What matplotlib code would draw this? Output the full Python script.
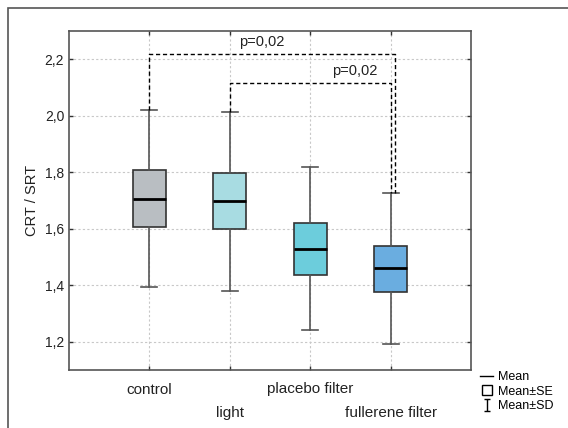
import numpy as np
import matplotlib
matplotlib.use('Agg')
import matplotlib.pyplot as plt
from matplotlib.lines import Line2D
from matplotlib.patches import Rectangle
from matplotlib.path import Path

plt.rcParams['font.family'] = ['Liberation Sans', 'DejaVu Sans']

# Data
groups = ['control', 'light', 'placebo filter', 'fullerene filter']
means = [1.706, 1.698, 1.529, 1.460]
se_low = [1.605, 1.598, 1.437, 1.376]
se_high = [1.807, 1.798, 1.622, 1.539]
sd_low = [1.394, 1.380, 1.240, 1.192]
sd_high = [2.021, 2.013, 1.819, 1.725]
colors = ['#b9bec2', '#a8dce2', '#6ccddc', '#6aade0']
yticks = [1.2, 1.4, 1.6, 1.8, 2.0, 2.2]
# significance brackets: (group a, group b, height, label, label x, label y)
brackets = [(0, 3, 2.219, 'p=0,02', 2.4, 2.26), (1, 3, 2.115, 'p=0,02', 3.56, 2.157)]

fig = plt.figure(figsize=(5.68, 4.28), dpi=100)
ax = fig.add_axes([69/568, 58/428, 402/568, 339/428])

pos = np.arange(1, len(groups) + 1)
stats = []
for i in range(len(groups)):
    stats.append({'med': means[i], 'q1': se_low[i], 'q3': se_high[i],
                  'whislo': sd_low[i], 'whishi': sd_high[i], 'fliers': []})
bp = ax.bxp(stats, positions=pos, widths=0.41, patch_artist=True, showfliers=False,
            boxprops=dict(edgecolor='#333333', linewidth=1.2),
            medianprops=dict(color='black', linewidth=2),
            whiskerprops=dict(color='#555555', linewidth=1.2),
            capprops=dict(color='#555555', linewidth=1.2),
            capwidths=0.2)
for patch, c in zip(bp['boxes'], colors):
    patch.set_facecolor(c)

# brackets
offs = [0.06, 0.01]
for (a, b, h, lab, lx, ly), o in zip(brackets, offs):
    xa, xb = pos[a], pos[b] + o
    ax.plot([xa, xa, xb, xb], [sd_high[a], h, h, sd_high[b]], color='black',
            linestyle=(0, (3, 2)), linewidth=1, zorder=5)
    ax.text(lx, ly, lab, ha='center', va='center', fontsize=10.5, color='#222222')

ax.set_xlim(0, 5)
ax.set_ylim(1.1, 2.3)
ax.set_yticks(yticks)
ax.set_yticklabels([('%.1f' % v).replace('.', ',') for v in yticks], fontsize=10, color='#222222')
ax.set_xticks(pos)
ax.set_xticklabels(groups, fontsize=11, color='#222222')
for k, t in enumerate(ax.xaxis.get_major_ticks()):
    t.set_pad(9 if k % 2 == 0 else 26)
ax.tick_params(direction='in', length=3, width=1, color='#333333', top=True, right=True)
ax.grid(True, color='#c8c8c8', linestyle=(0, (2, 2)), linewidth=0.8)
ax.set_axisbelow(True)
for s in ax.spines.values():
    s.set_color('#555555')
    s.set_linewidth(1.2)
ax.set_ylabel('CRT / SRT', fontsize=10.5, color='#222222', labelpad=4)

# legend
sd_marker = Path([(-0.5, 1), (0.5, 1), (0, 1), (0, -1), (-0.5, -1), (0.5, -1)],
                 [Path.MOVETO, Path.LINETO, Path.MOVETO, Path.LINETO, Path.MOVETO, Path.LINETO])
handles = [Line2D([], [], color='black', linewidth=1),
           Line2D([], [], marker='s', markersize=7, markerfacecolor='white',
                  markeredgecolor='black', linestyle='none'),
           Line2D([], [], marker=sd_marker, markersize=8, markeredgecolor='black',
                  markeredgewidth=1, fillstyle='none', linestyle='none')]
fig.legend(handles, ['Mean', 'Mean\u00b1SE', 'Mean\u00b1SD'], loc='upper left',
           bbox_to_anchor=(474/568, 1 - 365/428), frameon=False, fontsize=9,
           handlelength=1.0, handletextpad=0.4, labelspacing=0.2, borderpad=0)

# outer frame
fig.patches.append(Rectangle((8/568, -0.1), 1.2, 1 - 8/428 + 0.1, transform=fig.transFigure,
                             fill=False, edgecolor='#555555', linewidth=1.2))

fig.savefig('out.png', dpi=100)
